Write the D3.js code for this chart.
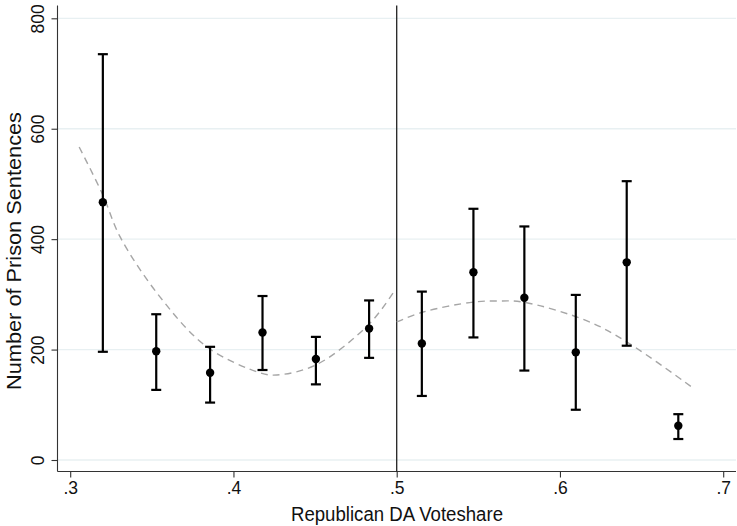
<!DOCTYPE html>
<html>
<head>
<meta charset="utf-8">
<script src="https://cdn.jsdelivr.net/npm/d3@7"></script>
<style>
  html, body { margin: 0; padding: 0; background: #fff; }
  svg { display: block; font-family: "Liberation Sans", Arial, Helvetica, sans-serif; }
</style>
</head>
<body>
<svg id="chart" width="737" height="526"></svg>
<script>
// ---- data ----
const binX     = [0.320, 0.3527, 0.3857, 0.4178, 0.4505, 0.4831, 0.5154, 0.5470, 0.5782, 0.6097, 0.6409, 0.6725];
const binMean  = [467, 197, 158, 231, 183, 238, 211, 340, 294, 195, 358, 62];
const binLower = [196, 127, 104, 163, 137, 185, 116, 222, 162, 91, 207, 38];
const binUpper = [735, 264, 205, 297, 223, 289, 305, 455, 423, 299, 505, 83];

const fitLeftX  = [0.3055, 0.320, 0.3306, 0.3551, 0.3837, 0.4163, 0.4266, 0.4511, 0.4837, 0.499];
const fitLeftY  = [567, 480, 404, 295, 205, 158, 154, 173, 248, 308];
const fitRightX = [0.500, 0.5162, 0.5468, 0.5615, 0.5774, 0.6166, 0.6409, 0.6817];
const fitRightY = [250, 268, 286, 288, 286, 252, 214, 130];

const xTicks = [0.3, 0.4, 0.5, 0.6, 0.7];
const xTickLabels = [".3", ".4", ".5", ".6", ".7"];
const yTicks = [0, 200, 400, 600, 800];
const cutoff = 0.5;
const xTitle = "Republican DA Voteshare";
const yTitle = "Number of Prison Sentences";

// ---- layout ----
const svg = d3.select("#chart");
const pL = 57.5, pR = 736, pT = 5.5, pB = 471.5;

const x = d3.scaleLinear().domain([0.3, 0.7]).range([70.2, 723.2]);
const y = d3.scaleLinear().domain([0, 800]).range([460, 18.3]);

// gridlines
svg.append("g").selectAll("line").data(yTicks).join("line")
  .attr("x1", pL).attr("x2", pR)
  .attr("y1", d => y(d)).attr("y2", d => y(d))
  .attr("stroke", "#e8f0f2").attr("stroke-width", 1.3);

// axes
const yAxis = svg.append("g").attr("transform", `translate(${pL},0)`)
  .call(d3.axisLeft(y).tickValues(yTicks).tickSize(6).tickPadding(3));
yAxis.select(".domain").attr("d", `M0,${pT}V${pB}`);
yAxis.selectAll(".tick text")
  .attr("transform", "rotate(-90)")
  .attr("x", 0).attr("y", -14)
  .attr("dy", "0")
  .style("text-anchor", "middle")
  .attr("font-size", 17.5).attr("fill", "#111");

const xAxis = svg.append("g").attr("transform", `translate(0,${pB})`)
  .call(d3.axisBottom(x).tickValues(xTicks).tickFormat((d, i) => xTickLabels[i]).tickSize(6).tickPadding(4));
xAxis.select(".domain").attr("d", `M${pL},0H${pR}`);
xAxis.selectAll(".tick text").attr("font-size", 17.5).attr("fill", "#111");
svg.selectAll(".domain, .tick line").attr("stroke", "#333").attr("stroke-width", 1.1);

// titles
svg.append("text").attr("x", 397).attr("y", 521)
  .attr("text-anchor", "middle").attr("font-size", 19.5).attr("fill", "#111")
  .attr("textLength", 212).attr("lengthAdjust", "spacingAndGlyphs").text(xTitle);
svg.append("text").attr("transform", `translate(21,251) rotate(-90)`)
  .attr("text-anchor", "middle").attr("font-size", 20.5).attr("fill", "#111")
  .attr("textLength", 278).attr("lengthAdjust", "spacingAndGlyphs").text(yTitle);

// cutoff line
svg.append("line").attr("x1", x(cutoff)).attr("x2", x(cutoff))
  .attr("y1", pT).attr("y2", pB)
  .attr("stroke", "#222").attr("stroke-width", 1.3);

// fitted curves
const line = d3.line().x(d => x(d[0])).y(d => y(d[1])).curve(d3.curveCatmullRom.alpha(0.5));
[[fitLeftX, fitLeftY], [fitRightX, fitRightY]].forEach(([xs, ys]) => {
  svg.append("path").datum(xs.map((v, i) => [v, ys[i]]))
    .attr("d", line).attr("fill", "none")
    .attr("stroke", "#a6a6a6").attr("stroke-width", 1.4)
    .attr("stroke-dasharray", "7,5");
});

// error bars
const bins = binX.map((v, i) => ({ x: v, m: binMean[i], lo: binLower[i], hi: binUpper[i] }));
const g = svg.append("g").attr("stroke", "#000").attr("stroke-width", 2.2);
g.selectAll("line.v").data(bins).join("line").attr("class", "v")
  .attr("x1", d => x(d.x)).attr("x2", d => x(d.x))
  .attr("y1", d => y(d.lo)).attr("y2", d => y(d.hi));
g.selectAll("line.cu").data(bins).join("line").attr("class", "cu")
  .attr("x1", d => x(d.x) - 5).attr("x2", d => x(d.x) + 5)
  .attr("y1", d => y(d.hi)).attr("y2", d => y(d.hi));
g.selectAll("line.cl").data(bins).join("line").attr("class", "cl")
  .attr("x1", d => x(d.x) - 5).attr("x2", d => x(d.x) + 5)
  .attr("y1", d => y(d.lo)).attr("y2", d => y(d.lo));

// points
svg.append("g").selectAll("circle").data(bins).join("circle")
  .attr("cx", d => x(d.x)).attr("cy", d => y(d.m)).attr("r", 4.2).attr("fill", "#000");
</script>
</body>
</html>
